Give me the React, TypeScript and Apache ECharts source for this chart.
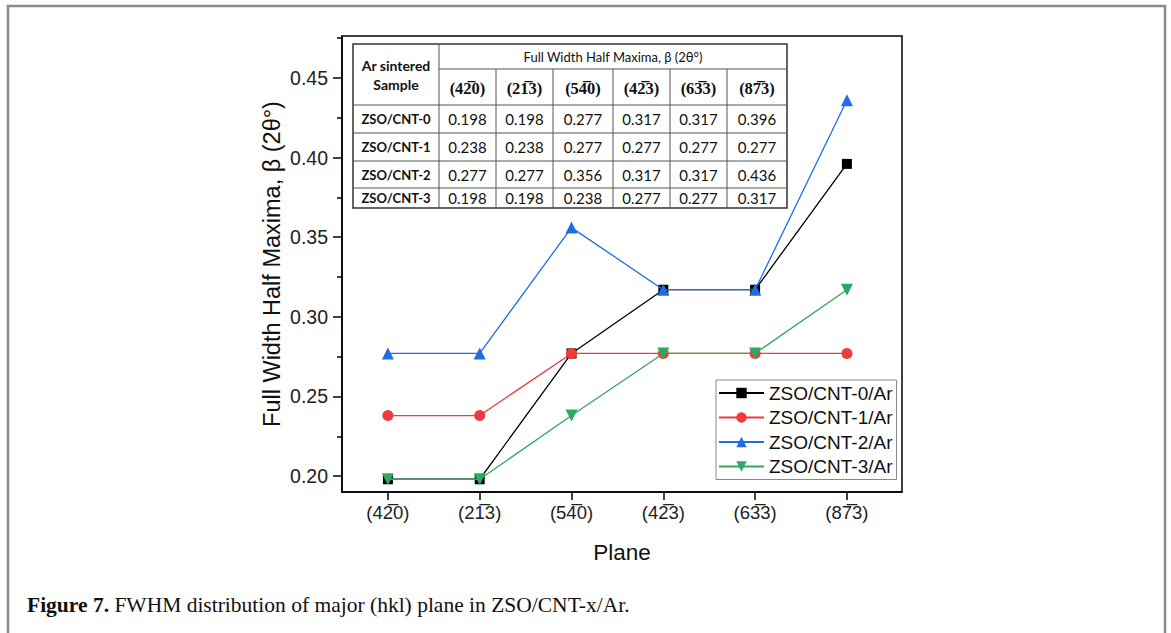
import React, { useEffect, useRef } from "react";
import * as echarts from "echarts";

const PLANES = ["(42\u03050)", "(21\u03053)", "(54\u03050)", "(42\u03053)", "(63\u03053)", "(87\u03053)"];
const SERIES_NAMES = ["ZSO/CNT-0/Ar", "ZSO/CNT-1/Ar", "ZSO/CNT-2/Ar", "ZSO/CNT-3/Ar"];
const TABLE_ROW_LABELS = ["ZSO/CNT-0", "ZSO/CNT-1", "ZSO/CNT-2", "ZSO/CNT-3"];
const CNT0 = [0.198, 0.198, 0.277, 0.317, 0.317, 0.396];
const CNT1 = [0.238, 0.238, 0.277, 0.277, 0.277, 0.277];
const CNT2 = [0.277, 0.277, 0.356, 0.317, 0.317, 0.436];
const CNT3 = [0.198, 0.198, 0.238, 0.277, 0.277, 0.317];
const Y_TICKS = [0.2, 0.25, 0.3, 0.35, 0.4, 0.45];
const Y_MINOR = [0.225, 0.275, 0.325, 0.375, 0.425, 0.475];
const X_TICKS = [0, 1, 2, 3, 4, 5];

const COLORS = ["#000000", "#ef3b3b", "#1f6de0", "#31a861"];
const SYMBOLS = ["rect", "circle", "triangle", "triangle"];
const ROTATES = [0, 0, 0, 180];
const SIZES = [10, 11, 12, 12];

const SANS = "'Liberation Sans', Arial, sans-serif";
const TABLE_SANS = "Lato, 'Open Sans', sans-serif";
const SERIF = "'Liberation Serif', 'Times New Roman', serif";

export default function App() {
  const ref = useRef<HTMLDivElement>(null);
  useEffect(() => {
    if (!ref.current) return;
    const chart = echarts.init(ref.current, null, { renderer: "svg" });
    const allSeries = [CNT0, CNT1, CNT2, CNT3];

    // table annotation
    const colX = [353, 439, 496, 553, 613, 670, 727, 787];
    const rowY = [44, 69, 105, 133, 161, 188, 208];
    const tbl: any[] = [];
    tbl.push({
      type: "rect",
      shape: { x: colX[0], y: rowY[0], width: colX[7] - colX[0], height: rowY[6] - rowY[0] },
      style: { fill: "#fff", stroke: "#333", lineWidth: 1.5 },
      z: 10,
    });
    for (let i = 1; i < 7; i++) {
      tbl.push({
        type: "line",
        shape: { x1: colX[i], y1: i === 1 ? rowY[0] : rowY[1], x2: colX[i], y2: rowY[6] },
        style: { stroke: "#555", lineWidth: 1 },
        z: 11,
      });
    }
    for (let j = 1; j < 6; j++) {
      tbl.push({
        type: "line",
        shape: { x1: j === 1 ? colX[1] : colX[0], y1: rowY[j], x2: colX[7], y2: rowY[j] },
        style: { stroke: "#555", lineWidth: 1 },
        z: 11,
      });
    }
    const txt = (t: string, x: number, y: number, font: string, size: number, weight: string) => ({
      type: "text",
      x,
      y,
      z: 12,
      style: {
        text: t,
        fill: "#111",
        font: `${weight} ${size}px ${font}`,
        align: "center",
        verticalAlign: "middle",
      },
    });
    tbl.push(txt("Ar sintered", (colX[0] + colX[1]) / 2, 65, TABLE_SANS, 14, "bold"));
    tbl.push(txt("Sample", (colX[0] + colX[1]) / 2, 84, TABLE_SANS, 14, "bold"));
    tbl.push(txt("Full Width Half Maxima, \u03b2 (2\u03b8\u00b0)", (colX[1] + colX[7]) / 2, 57, TABLE_SANS, 13, "normal"));
    PLANES.forEach((p, i) => {
      tbl.push(txt(p, (colX[i + 1] + colX[i + 2]) / 2, 88, SERIF, 16.5, "bold"));
    });
    TABLE_ROW_LABELS.forEach((r, j) => {
      const cy = (rowY[j + 2] + rowY[j + 3]) / 2;
      tbl.push(txt(r, (colX[0] + colX[1]) / 2, cy, TABLE_SANS, 13, "bold"));
      allSeries[j].forEach((v, i) => {
        tbl.push(txt(v.toFixed(3), (colX[i + 1] + colX[i + 2]) / 2, cy, TABLE_SANS, 15, "normal"));
      });
    });

    const option: any = {
      animation: false,
      backgroundColor: "#fff",
      grid: {
        left: 342,
        top: 36,
        width: 560,
        height: 456,
        show: true,
        borderColor: "#000",
        borderWidth: 1.5,
        backgroundColor: "transparent",
      },
      legend: {
        orient: "vertical",
        left: 716,
        top: 380,
        itemWidth: 45,
        itemHeight: 13,
        itemGap: 3.5,
        padding: [2.5, 4, 2.5, 2],
        borderColor: "#888",
        borderWidth: 1,
        backgroundColor: "#fff",
        textStyle: { fontSize: 19, color: "#111", fontFamily: SANS, lineHeight: 21 },
        data: SERIES_NAMES,
      },
      xAxis: {
        type: "value",
        min: -0.5,
        max: 5.6,
        name: "Plane",
        nameLocation: "middle",
        nameGap: 49,
        nameTextStyle: { fontSize: 22.5, color: "#111", fontFamily: SANS },
        axisLine: { onZero: false, lineStyle: { color: "#000", width: 1.5 } },
        axisTick: { customValues: X_TICKS, length: 8, lineStyle: { color: "#000", width: 1.5 } },
        axisLabel: {
          customValues: X_TICKS,
          formatter: (v: number) => PLANES[Math.round(v)],
          fontSize: 18.5,
          color: "#222",
          fontFamily: SANS,
          margin: 11,
        },
        splitLine: { show: false },
      },
      yAxis: [
        {
          type: "value",
          min: 0.19,
          max: 0.4763,
          position: "left",
          name: "Full Width Half Maxima, \u03b2 (2\u03b8\u00b0)",
          nameLocation: "middle",
          nameGap: 58,
          nameTextStyle: { fontSize: 23.5, color: "#111", fontFamily: SANS },
          axisLine: { onZero: false, lineStyle: { color: "#000", width: 1.5 } },
          axisTick: { customValues: Y_TICKS, length: 9, lineStyle: { color: "#000", width: 1.5 } },
          axisLabel: {
            customValues: Y_TICKS,
            formatter: (v: number) => v.toFixed(2),
            fontSize: 19.5,
            color: "#222",
            fontFamily: SANS,
            margin: 14,
          },
          splitLine: { show: false },
        },
        {
          type: "value",
          min: 0.19,
          max: 0.4763,
          position: "left",
          axisLine: { show: false, onZero: false },
          axisTick: { customValues: Y_MINOR, length: 5, lineStyle: { color: "#000", width: 1.5 } },
          axisLabel: { show: false },
          splitLine: { show: false },
        },
      ],
      series: allSeries.map((arr, k) => ({
        name: SERIES_NAMES[k],
        type: "line",
        yAxisIndex: 0,
        data: arr.map((v, i) => [i, v]),
        symbol: SYMBOLS[k],
        symbolRotate: ROTATES[k],
        symbolSize: SIZES[k],
        itemStyle: { color: COLORS[k] },
        lineStyle: { color: COLORS[k], width: 1.3 },
        z: 2 + k,
      })),
      graphic: [
        {
          type: "rect",
          shape: { x: 8, y: 6, width: 1157, height: 720 },
          style: { fill: "none", stroke: "#8a8a8a", lineWidth: 2.5 },
          silent: true,
        },
        ...tbl,
        {
          type: "text",
          left: 27,
          top: 594,
          style: {
            text: "{b|Figure 7.} FWHM distribution of major (hkl) plane in ZSO/CNT-x/Ar.",
            font: `21.5px ${SERIF}`,
            fill: "#111",
            rich: {
              b: { font: `bold 21.5px ${SERIF}`, fill: "#111" },
            },
          },
        },
      ],
    };
    chart.setOption(option);
    return () => chart.dispose();
  }, []);
  return <div ref={ref} style={{ position: "absolute", left: 0, top: 0, width: 1171, height: 633 }} />;
}
